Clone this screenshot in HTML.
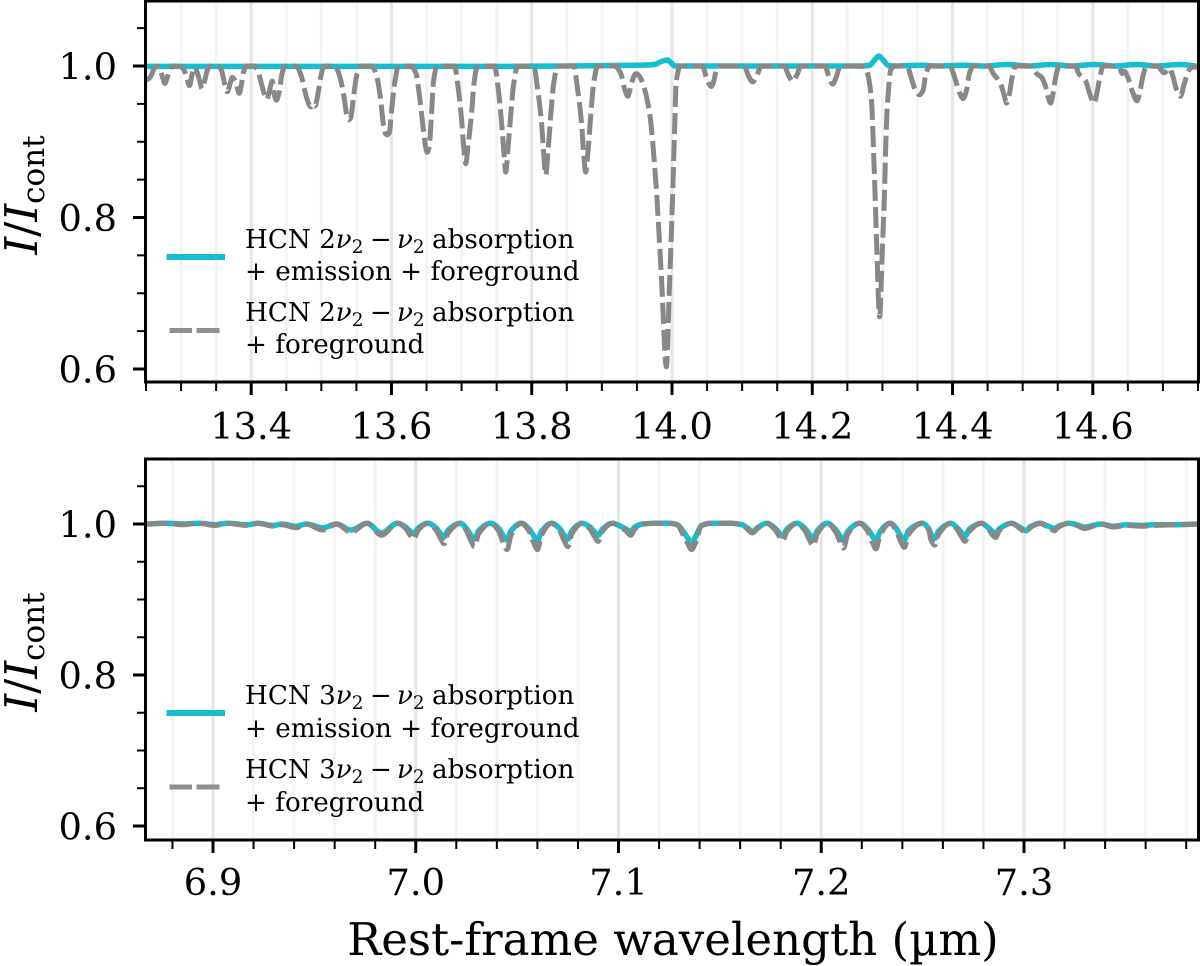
<!DOCTYPE html>
<html lang="en">
<head>
<meta charset="utf-8">
<title>HCN absorption spectra</title>
<style>
html,body{margin:0;padding:0;background:#fff;width:1200px;height:966px;overflow:hidden}
svg{display:block}
text{font-family:"DejaVu Serif","Liberation Serif",serif;fill:#000}
.tick{font-size:36.8px}
.leg{font-size:26.2px}
.sub{font-size:18.4px}
.ital{font-style:italic}
</style>
</head>
<body>
<svg id="chart" xmlns="http://www.w3.org/2000/svg" width="1200" height="966" viewBox="0 0 1200 966">
  <defs>
    <clipPath id="clip-top"><rect x="146" y="0" width="1052" height="382"/></clipPath>
    <clipPath id="clip-bottom"><rect x="146" y="459" width="1052" height="381"/></clipPath>
  </defs>
  <g id="top-panel"></g>
  <g id="bottom-panel"></g>

  <text transform="translate(37,195) rotate(-90)" text-anchor="middle" font-size="45"><tspan class="ital">I</tspan><tspan>/</tspan><tspan class="ital">I</tspan><tspan font-size="31" dy="7">cont</tspan></text>
  <text transform="translate(37,652) rotate(-90)" text-anchor="middle" font-size="45"><tspan class="ital">I</tspan><tspan>/</tspan><tspan class="ital">I</tspan><tspan font-size="31" dy="7">cont</tspan></text>
  <text x="673" y="955" text-anchor="middle" font-size="45.1">Rest-frame wavelength (µm)</text>

  <g>
    <line x1="166.5" x2="225" y1="257" y2="257" stroke="#17becf" stroke-width="6"/>
    <text class="leg" x="245" y="248">HCN 2<tspan class="ital">ν</tspan><tspan class="sub" dy="5">2</tspan><tspan x="370" dy="-5">−</tspan><tspan class="ital" x="397">ν</tspan><tspan class="sub" dy="5">2</tspan><tspan x="432" dy="-5">absorption</tspan></text>
    <text class="leg" x="245" y="280">+ emission + foreground</text>
    <path d="M169.5 330.5H192M196.5 330.5H219.5" stroke="#8f8f8f" stroke-width="5" fill="none"/>
    <text class="leg" x="245" y="321">HCN 2<tspan class="ital">ν</tspan><tspan class="sub" dy="5">2</tspan><tspan x="370" dy="-5">−</tspan><tspan class="ital" x="397">ν</tspan><tspan class="sub" dy="5">2</tspan><tspan x="432" dy="-5">absorption</tspan></text>
    <text class="leg" x="245" y="353">+ foreground</text>
  </g>
  <g>
    <line x1="166.5" x2="225" y1="713" y2="713" stroke="#17becf" stroke-width="6"/>
    <text class="leg" x="245" y="704">HCN 3<tspan class="ital">ν</tspan><tspan class="sub" dy="5">2</tspan><tspan x="370" dy="-5">−</tspan><tspan class="ital" x="397">ν</tspan><tspan class="sub" dy="5">2</tspan><tspan x="432" dy="-5">absorption</tspan></text>
    <text class="leg" x="245" y="737">+ emission + foreground</text>
    <path d="M169.5 787H192M196.5 787H219.5" stroke="#8f8f8f" stroke-width="5" fill="none"/>
    <text class="leg" x="245" y="778">HCN 3<tspan class="ital">ν</tspan><tspan class="sub" dy="5">2</tspan><tspan x="370" dy="-5">−</tspan><tspan class="ital" x="397">ν</tspan><tspan class="sub" dy="5">2</tspan><tspan x="432" dy="-5">absorption</tspan></text>
    <text class="leg" x="245" y="811">+ foreground</text>
  </g>
</svg>
<script>
// ---- tick data ----
const yMajorTicks = [0.6, 0.8, 1.0];
const yMajorLabels = ['0.6', '0.8', '1.0'];
const yMinorTicks = [0.65, 0.7, 0.75, 0.85, 0.9, 0.95, 1.05];
const topMajorTicks = [13.4, 13.6, 13.8, 14.0, 14.2, 14.4, 14.6];
const topMajorLabels = ['13.4', '13.6', '13.8', '14.0', '14.2', '14.4', '14.6'];
const topMinorTicks = [13.25, 13.3, 13.35, 13.45, 13.5, 13.55, 13.65, 13.7, 13.75, 13.85, 13.9, 13.95, 14.05, 14.1, 14.15, 14.25, 14.3, 14.35, 14.45, 14.5, 14.55, 14.65, 14.7, 14.75];
const bottomMajorTicks = [6.9, 7.0, 7.1, 7.2, 7.3];
const bottomMajorLabels = ['6.9', '7.0', '7.1', '7.2', '7.3'];
const bottomMinorTicks = [6.88, 6.92, 6.94, 6.96, 6.98, 7.02, 7.04, 7.06, 7.08, 7.12, 7.14, 7.16, 7.18, 7.22, 7.24, 7.26, 7.28, 7.32, 7.34, 7.36, 7.38];

// ---- top panel series ----
const topGrayWave = [13.25,13.256,13.262,13.266,13.270,13.274,13.277,13.280,13.284,13.288,13.298,13.304,13.308,13.312,13.316,13.319,13.321,13.326,13.330,13.334,13.338,13.341,13.353,13.358,13.362,13.366,13.370,13.373,13.376,13.379,13.383,13.386,13.389,13.393,13.404,13.409,13.415,13.419,13.422,13.425,13.428,13.430,13.433,13.436,13.440,13.444,13.448,13.462,13.466,13.472,13.477,13.482,13.485,13.489,13.491,13.495,13.499,13.503,13.507,13.520,13.523,13.528,13.533,13.537,13.539,13.542,13.546,13.551,13.556,13.572,13.578,13.584,13.589,13.592,13.594,13.597,13.600,13.605,13.610,13.628,13.635,13.640,13.645,13.649,13.651,13.654,13.657,13.660,13.665,13.690,13.695,13.700,13.703,13.706,13.709,13.715,13.717,13.723,13.747,13.752,13.757,13.760,13.763,13.766,13.771,13.774,13.780,13.803,13.808,13.814,13.817,13.820,13.823,13.828,13.831,13.837,13.860,13.865,13.871,13.874,13.877,13.880,13.885,13.888,13.894,13.918,13.927,13.933,13.937,13.941,13.945,13.949,13.954,13.958,13.968,13.977,13.985,13.992,13.996,14.001,14.004,14.006,14.012,14.043,14.049,14.053,14.056,14.059,14.062,14.066,14.103,14.109,14.115,14.121,14.127,14.160,14.166,14.172,14.178,14.184,14.218,14.224,14.229,14.234,14.240,14.270,14.276,14.284,14.288,14.2895,14.292,14.296,14.300,14.303,14.305,14.307,14.312,14.318,14.335,14.341,14.347,14.353,14.358,14.362,14.368,14.396,14.403,14.410,14.415,14.420,14.424,14.430,14.452,14.458,14.464,14.469,14.474,14.477,14.481,14.485,14.490,14.512,14.520,14.527,14.532,14.536,14.540,14.543,14.547,14.552,14.575,14.580,14.585,14.590,14.595,14.602,14.606,14.610,14.615,14.632,14.638,14.642,14.645,14.650,14.657,14.663,14.667,14.671,14.677,14.692,14.702,14.709,14.713,14.719,14.725,14.730,14.735,14.740,14.750];
const topGrayValues = [.981,.985,.997,1,.995,.984,.977,.984,.995,1,1,.995,.985,.974,.990,.998,.996,.982,.970,.982,.996,1,1,.993,.977,.966,.977,.985,.982,.975,.964,.975,.992,1,1,.995,.975,.962,.956,.963,.975,.980,.962,.955,.966,.990,1,1,.998,.985,.965,.950,.946,.950,.947,.962,.985,.998,1,1,.995,.980,.955,.932,.929,.932,.960,.990,1,1,.990,.960,.920,.910,.909,.912,.940,.980,1,1,.990,.960,.920,.892,.886,.895,.935,.980,1,1,.972,.929,.893,.871,.893,.946,.972,1,1,.972,.925,.890,.860,.890,.945,.975,1,1,.972,.925,.885,.856,.885,.945,.975,1,1,.972,.925,.885,.860,.885,.945,.975,1,1,.990,.968,.960,.972,.985,.990,.986,.978,.938,.846,.720,.603,.700,.832,.925,.978,1,1,.985,.976,.973,.978,.990,1,1,.987,.979,.987,1,1,.988,.980,.988,1,1,.985,.976,.985,1,1,.997,.960,.872,.832,.760,.669,.760,.832,.902,.946,.995,1,1,.985,.968,.962,.968,.990,1,1,.985,.965,.957,.968,.990,1,1,.990,.983,.975,.960,.951,.963,.985,1,1,.990,.985,.975,.960,.951,.962,.985,1,1,.990,.985,.980,.965,.951,.965,.985,1,1,.998,.990,.993,.985,.965,.954,.965,.985,1,1,.991,.997,.990,.970,.960,.975,.990,.998,.999];
const topCyanWave = [13.25,13.35,13.45,13.55,13.65,13.75,13.85,13.95,13.975,13.985,13.993,13.999,14.004,14.05,14.15,14.27,14.282,14.288,14.295,14.300,14.308,14.32,14.353,14.38,14.415,14.445,14.477,14.51,14.54,14.57,14.602,14.63,14.663,14.69,14.725,14.75];
const topCyanValues = [.9995,.9995,.9995,.9995,.9995,.9995,1,1.001,1.002,1.006,1.008,1.004,1,1,1,1,1.001,1.007,1.013,1.009,1.001,1,1.001,1,1.001,1,1.002,1,1.002,1,1.002,1,1.002,1,1.002,.9995];

// ---- bottom panel series ----
const bottomWave = [6.867,6.877,6.885,6.893,6.901,6.907,6.917,6.922,6.930,6.934,6.941,6.946,6.954,6.961,6.968,6.976,6.983,6.991,6.995,6.997,6.999,7.001,7.006,7.010,7.012,7.014,7.016,7.022,7.025,7.027,7.029,7.031,7.037,7.041,7.043,7.045,7.047,7.052,7.056,7.058,7.060,7.062,7.067,7.071,7.073,7.075,7.077,7.082,7.086,7.088,7.090,7.092,7.097,7.101,7.104,7.106,7.108,7.112,7.118,7.125,7.129,7.132,7.134,7.136,7.138,7.141,7.146,7.155,7.161,7.164,7.166,7.169,7.173,7.177,7.179,7.181,7.183,7.188,7.192,7.194,7.196,7.198,7.203,7.207,7.209,7.211,7.213,7.219,7.223,7.225,7.227,7.229,7.234,7.237,7.239,7.241,7.243,7.250,7.253,7.254,7.256,7.258,7.264,7.267,7.269,7.271,7.273,7.279,7.282,7.284,7.286,7.288,7.294,7.297,7.299,7.301,7.303,7.308,7.311,7.313,7.315,7.317,7.322,7.326,7.330,7.334,7.338,7.344,7.351,7.358,7.364,7.374,7.386];
const bottomGray = [1,1.001,.999,1.001,.998,1.001,.998,1.001,.997,.999,.995,1,.992,1,.989,1.001,.985,1.001,.994,.986,.980,.991,1.001,.992,.982,.974,.988,1.001,.991,.979,.970,.987,1.001,.990,.976,.966,.985,1.001,.990,.976,.966,.985,1.001,.991,.979,.970,.987,1.001,.993,.984,.977,.990,1.001,.996,.990,.985,.993,1,1.001,1.001,.999,.985,.975,.966,.975,.998,1.001,1.001,.999,.992,.988,.995,1.001,.993,.985,.978,.990,1.001,.991,.980,.971,.987,1.001,.990,.978,.968,.986,1.001,.990,.977,.967,.985,1.001,.991,.978,.969,.986,1.001,.992,.980,.972,.987,1.001,.993,.984,.977,.990,1.001,.995,.987,.982,.992,1.001,.996,.992,.988,.995,1.001,.997,.994,.991,.996,1.001,.998,.994,.997,1,.996,.998,.997,.998,.999,1];
const bottomCyan = [1,1.001,1,1.001,.999,1.001,.999,1.001,.998,1,.997,1,.995,1,.992,1.001,.988,1.001,.996,.991,.987,.994,1.001,.995,.988,.983,.992,1.001,.994,.986,.980,.991,1.001,.994,.985,.979,.991,1.001,.993,.985,.978,.990,1.001,.994,.986,.980,.991,1.001,.996,.990,.985,.993,1.001,.997,.993,.990,.996,1,1.001,1.001,.999,.990,.982,.975,.983,.998,1.001,1.001,.999,.994,.990,.996,1.001,.995,.989,.984,.993,1.001,.994,.987,.981,.991,1.001,.993,.985,.978,.990,1.001,.993,.985,.978,.990,1.001,.994,.985,.979,.991,1.001,.994,.987,.981,.991,1.001,.995,.989,.984,.993,1.001,.996,.991,.987,.994,1.001,.997,.994,.991,.996,1.001,.998,.996,.994,.997,1.001,.999,.996,.998,1,.997,.999,.998,.999,.999,1];

const NS = 'http://www.w3.org/2000/svg';
function mk(parent, tag, attrs, txt) {
  const el = document.createElementNS(NS, tag);
  for (const k in attrs) el.setAttribute(k, attrs[k]);
  if (txt !== undefined) el.textContent = txt;
  parent.appendChild(el);
  return el;
}
function linear(d0, d1, r0, r1) {
  return function (v) { return r0 + (v - d0) * (r1 - r0) / (d1 - d0); };
}
// Monotone cubic path through the given pixel points
function monotonePath(px, py) {
  const n = px.length, dx = [], m = [], t = [];
  for (let i = 0; i < n - 1; i++) { dx[i] = px[i + 1] - px[i]; m[i] = (py[i + 1] - py[i]) / dx[i]; }
  t[0] = m[0]; t[n - 1] = m[n - 2];
  for (let i = 1; i < n - 1; i++) {
    if (m[i - 1] * m[i] <= 0) t[i] = 0;
    else {
      const w1 = 2 * dx[i] + dx[i - 1], w2 = dx[i] + 2 * dx[i - 1];
      t[i] = (w1 + w2) / (w1 / m[i - 1] + w2 / m[i]);
    }
  }
  let d = 'M' + px[0].toFixed(2) + ' ' + py[0].toFixed(2);
  for (let i = 0; i < n - 1; i++) {
    const h = dx[i] / 3;
    d += 'C' + (px[i] + h).toFixed(2) + ' ' + (py[i] + t[i] * h).toFixed(2) + ' ' +
      (px[i + 1] - h).toFixed(2) + ' ' + (py[i + 1] - t[i + 1] * h).toFixed(2) + ' ' +
      px[i + 1].toFixed(2) + ' ' + py[i + 1].toFixed(2);
  }
  return d;
}

function drawPanel(g, cfg) {
  const xS = cfg.x, yS = cfg.y, top = cfg.top, bot = cfg.bottom, L = 146, R = 1198;

  cfg.minor.forEach(function (v) {
    const band = mk(g, 'line', { x1: xS(v), x2: xS(v), y1: top, y2: bot, stroke: '#f3f3f3', 'stroke-width': 3 });
    
    
  });
  cfg.major.forEach(function (v) {
    const band = mk(g, 'line', { x1: xS(v), x2: xS(v), y1: top, y2: bot, stroke: '#e6e6e6', 'stroke-width': 3 });
    
    
  });

  const cyan = mk(g, 'path', {
    d: monotonePath(cfg.cyanWave.map(xS), cfg.cyanVals.map(yS)),
    fill: 'none', stroke: '#17becf', 'stroke-width': 5.5, 'stroke-linejoin': 'round',
    'clip-path': 'url(#' + cfg.clip + ')'
  });
  
  

  const gray = mk(g, 'path', {
    d: monotonePath(cfg.grayWave.map(xS), cfg.grayVals.map(yS)),
    fill: 'none', stroke: '#888888', 'stroke-width': 5, 'stroke-dasharray': '21 6', 'stroke-linejoin': 'round',
    'clip-path': 'url(#' + cfg.clip + ')'
  });
  
  

  const frame = mk(g, 'rect', { x: L - 0.5, y: top, width: R - L + 1, height: bot - top, fill: 'none', stroke: '#000', 'stroke-width': 3 });
  
  

  yMinorTicks.forEach(function (v) {
    const t = mk(g, 'line', { x1: L - 9, x2: L, y1: yS(v), y2: yS(v), stroke: '#000', 'stroke-width': 2 });
    
    
  });
  yMajorTicks.forEach(function (v, i) {
    const t = mk(g, 'line', { x1: L - 13, x2: L, y1: yS(v), y2: yS(v), stroke: '#000', 'stroke-width': 3 });
    
    
    const lb = mk(g, 'text', { x: 117, y: yS(v) + 13.5, 'text-anchor': 'end', class: 'tick' }, yMajorLabels[i]);
    
    
  });
  cfg.minor.forEach(function (v) {
    const t = mk(g, 'line', { x1: xS(v), x2: xS(v), y1: bot, y2: bot + 9, stroke: '#000', 'stroke-width': 2 });
    
    
  });
  cfg.major.forEach(function (v, i) {
    const t = mk(g, 'line', { x1: xS(v), x2: xS(v), y1: bot, y2: bot + 13, stroke: '#000', 'stroke-width': 3 });
    
    
    const lb = mk(g, 'text', { x: xS(v), y: cfg.labelY, 'text-anchor': 'middle', class: 'tick' }, cfg.labels[i]);
    
    
  });
}

drawPanel(document.getElementById('top-panel'), {
  x: linear(13.25, 14.75, 146, 1198),
  y: linear(0.6, 1.0, 369, 66),
  top: 1, bottom: 382, clip: 'clip-top', labelY: 439,
  major: topMajorTicks, minor: topMinorTicks, labels: topMajorLabels,
  grayWave: topGrayWave, grayVals: topGrayValues,
  cyanWave: topCyanWave, cyanVals: topCyanValues
});
drawPanel(document.getElementById('bottom-panel'), {
  x: linear(6.9, 7.3, 213, 1024),
  y: linear(0.6, 1.0, 826, 524),
  top: 459, bottom: 840, clip: 'clip-bottom', labelY: 895,
  major: bottomMajorTicks, minor: bottomMinorTicks, labels: bottomMajorLabels,
  grayWave: bottomWave, grayVals: bottomGray,
  cyanWave: bottomWave, cyanVals: bottomCyan
});
</script>
</body>
</html>
